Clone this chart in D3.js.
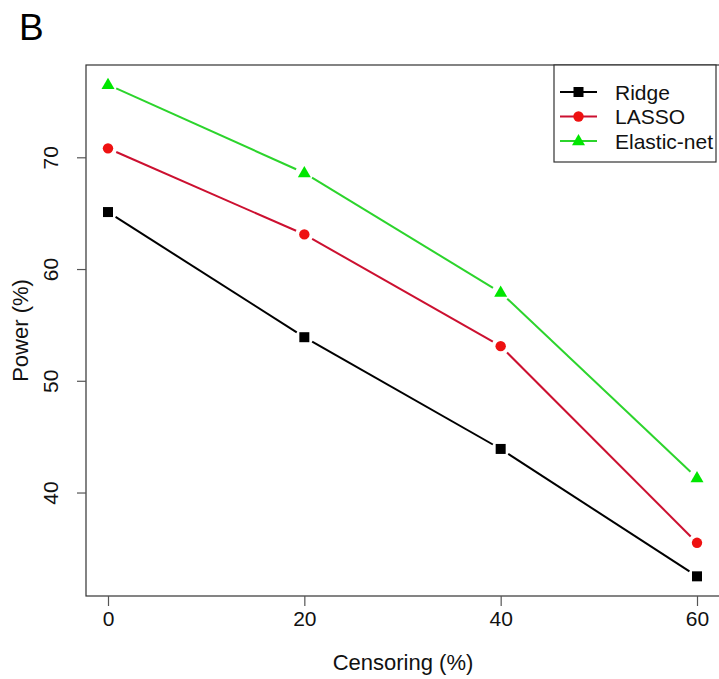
<!DOCTYPE html>
<html>
<head>
<meta charset="utf-8">
<script src="https://cdn.jsdelivr.net/npm/d3@7"></script>
<style>
  html, body { margin: 0; padding: 0; background: #fff; }
  svg { display: block; font-family: "Liberation Sans", Arial, sans-serif; }
</style>
</head>
<body>
<svg id="chart" width="719" height="679"></svg>
<script>
// ---- data ----
const censoring = [0, 20, 40, 60];
const ridge = [65.1, 53.9, 43.9, 32.5];
const lasso = [70.8, 63.1, 53.1, 35.5];
const elastic = [76.5, 68.6, 57.9, 41.3];
const seriesNames = ["Ridge", "LASSO", "Elastic-net"];
const xTicks = [0, 20, 40, 60];
const yTicks = [40, 50, 60, 70];

const svg = d3.select("#chart");
const box = { left: 86, top: 65, bottom: 596, right: 721 };

const allY = ridge.concat(lasso, elastic);
const yMin = d3.min(allY), yMax = d3.max(allY);
const pad = (yMax - yMin) * 0.04;
const y = d3.scaleLinear().domain([yMin - pad, yMax + pad]).range([box.bottom, box.top]);
const x = d3.scaleLinear().domain([0, 60]).range([108, 697]);

// plot box
svg.append("rect")
  .attr("x", box.left).attr("y", box.top)
  .attr("width", box.right - box.left).attr("height", box.bottom - box.top)
  .attr("fill", "none").attr("stroke", "#333").attr("stroke-width", 1.2);

// axes
const xAxis = d3.axisBottom(x).tickValues(xTicks).tickSize(10).tickPadding(5).tickFormat(d3.format("d"));
const gx = svg.append("g").attr("transform", `translate(0,${box.bottom})`).call(xAxis);
gx.select(".domain").remove();
gx.selectAll(".tick line").attr("stroke", "#555").attr("stroke-width", 1.2);
gx.selectAll(".tick text").attr("font-size", 21).attr("fill", "#111")
  .attr("font-family", "Liberation Sans, Arial, sans-serif");

const yAxis = d3.axisLeft(y).tickValues(yTicks).tickSize(9).tickFormat(d3.format("d"));
const gy = svg.append("g").attr("transform", `translate(${box.left},0)`).call(yAxis);
gy.select(".domain").remove();
gy.selectAll(".tick line").attr("stroke", "#555").attr("stroke-width", 1.2);
gy.selectAll(".tick text").attr("font-size", 21).attr("fill", "#111")
  .attr("font-family", "Liberation Sans, Arial, sans-serif")
  .attr("x", null).attr("dy", null)
  .attr("text-anchor", "middle")
  .attr("transform", "translate(-36,0) rotate(-90)")
  .attr("dominant-baseline", "central");

// axis titles
svg.append("text").attr("x", 403).attr("y", 670).attr("text-anchor", "middle")
  .attr("font-size", 22).attr("fill", "#111").text("Censoring (%)");
svg.append("text").attr("transform", `translate(28,${(box.top + box.bottom) / 2}) rotate(-90)`)
  .attr("text-anchor", "middle").attr("font-size", 22).attr("fill", "#111").text("Power (%)");

// panel letter
svg.append("text").attr("x", 19).attr("y", 40).attr("font-size", 37).attr("fill", "#000").text("B");

// series
const series = [
  { name: seriesNames[0], vals: ridge, line: "#000", pt: "#000", shape: "square" },
  { name: seriesNames[1], vals: lasso, line: "#cc1030", pt: "#ee1111", shape: "circle" },
  { name: seriesNames[2], vals: elastic, line: "#2cd42c", pt: "#00e600", shape: "triangle" }
];

function drawMarker(g, shape, cx, cy, color) {
  if (shape === "square") {
    g.append("rect").attr("x", cx - 5).attr("y", cy - 5).attr("width", 10).attr("height", 10).attr("fill", color);
  } else if (shape === "circle") {
    g.append("circle").attr("cx", cx).attr("cy", cy).attr("r", 5.2).attr("fill", color);
  } else {
    const s = 13, h = s * Math.sqrt(3) / 2;
    g.append("path")
      .attr("d", `M${cx},${cy - h * 0.62}L${cx + s / 2},${cy + h * 0.38}L${cx - s / 2},${cy + h * 0.38}Z`)
      .attr("fill", color);
  }
}

const gap = 9;
series.forEach(s => {
  const g = svg.append("g");
  const pts = censoring.map((c, i) => [x(c), y(s.vals[i])]);
  for (let i = 0; i < pts.length - 1; i++) {
    const [x0, y0] = pts[i], [x1, y1] = pts[i + 1];
    const dx = x1 - x0, dy = y1 - y0, len = Math.hypot(dx, dy);
    const ux = dx / len, uy = dy / len;
    g.append("line")
      .attr("x1", x0 + ux * gap).attr("y1", y0 + uy * gap)
      .attr("x2", x1 - ux * gap).attr("y2", y1 - uy * gap)
      .attr("stroke", s.line).attr("stroke-width", 2);
  }
  pts.forEach(p => drawMarker(g, s.shape, p[0], p[1], s.pt));
});

// legend
const lg = svg.append("g");
lg.append("rect").attr("x", 554).attr("y", box.top).attr("width", 162).attr("height", 97)
  .attr("fill", "#fff").attr("stroke", "#333").attr("stroke-width", 1.2);
series.forEach((s, i) => {
  const ly = 92 + i * 24.5;
  lg.append("line").attr("x1", 560).attr("x2", 597).attr("y1", ly).attr("y2", ly)
    .attr("stroke", s.line).attr("stroke-width", 2);
  drawMarker(lg, s.shape, 578.5, ly, s.pt);
  lg.append("text").attr("x", 615).attr("y", ly).attr("dominant-baseline", "central")
    .attr("font-size", 21).attr("fill", "#111").text(s.name);
});
</script>
</body>
</html>
